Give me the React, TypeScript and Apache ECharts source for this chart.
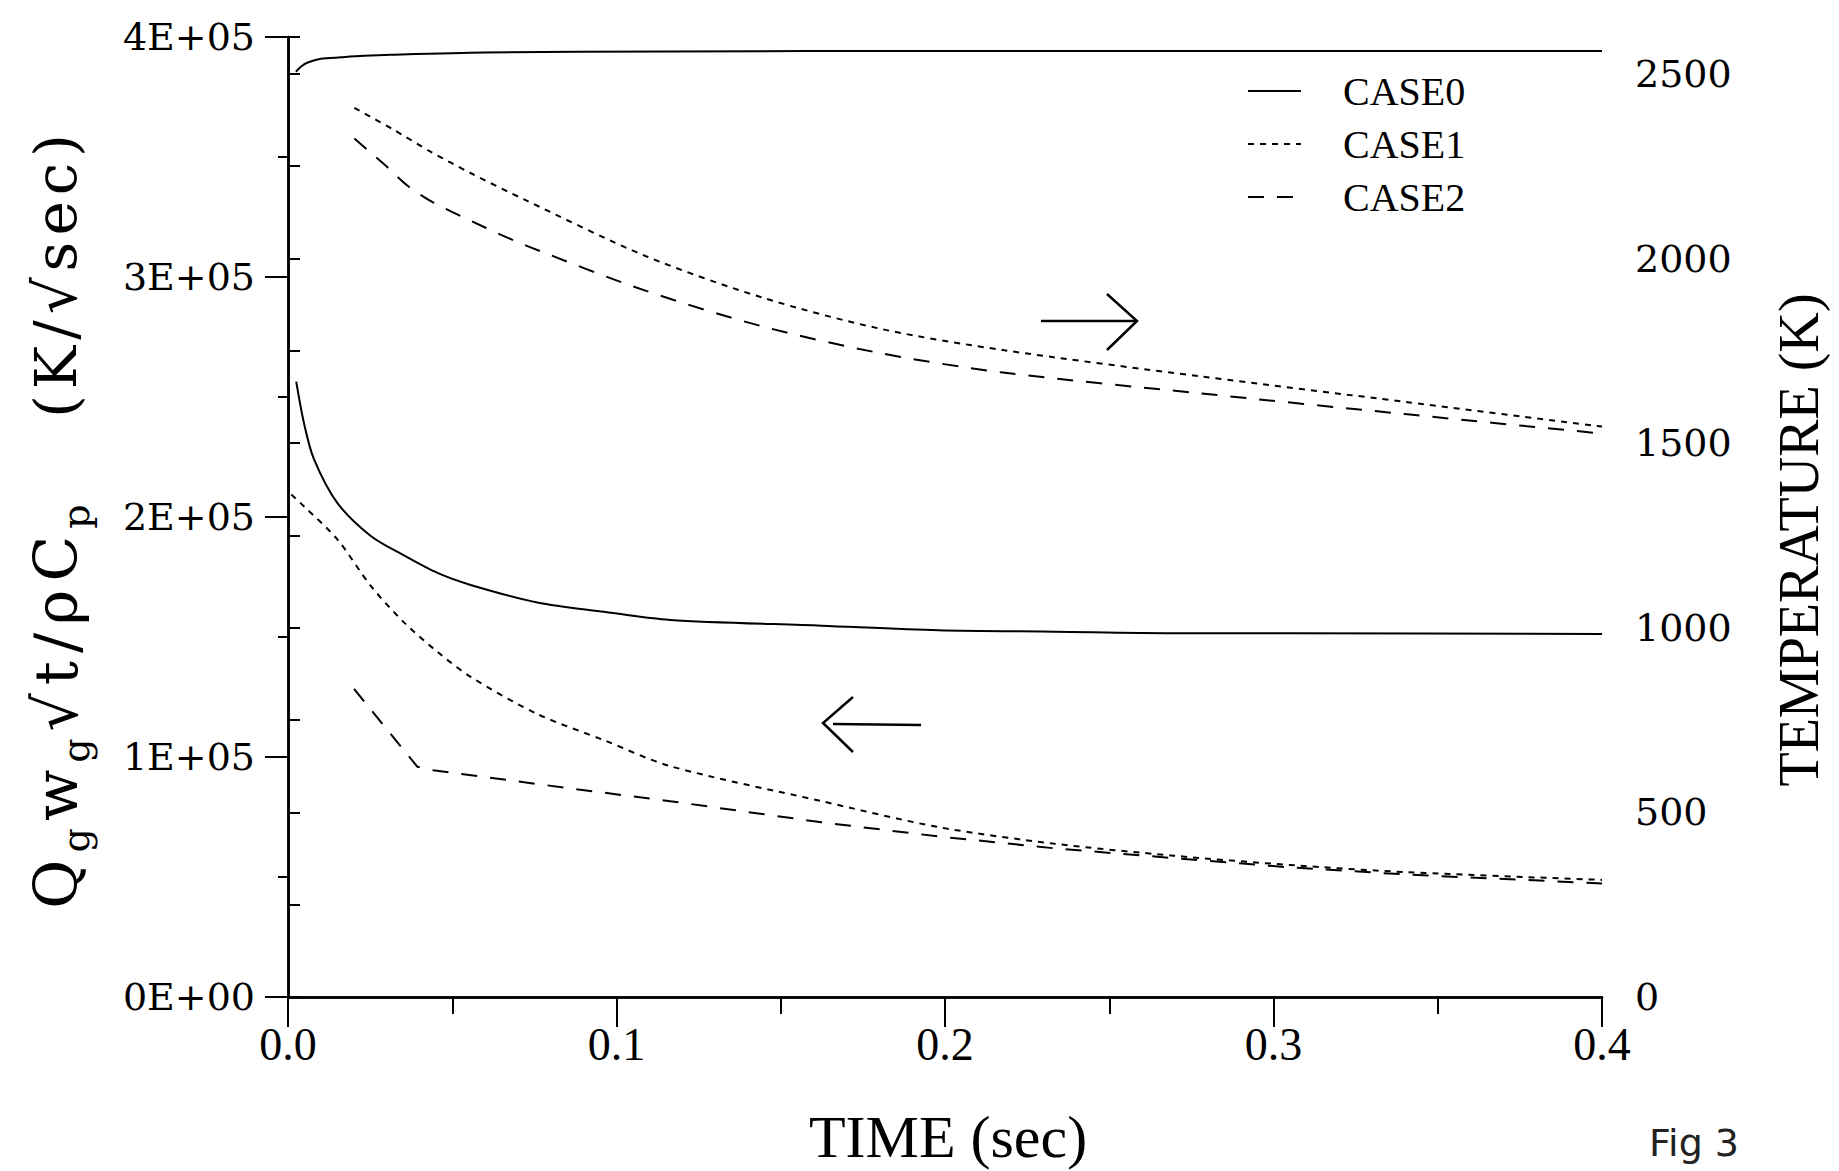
import React, { useEffect, useRef } from "react";
import * as echarts from "echarts";

// ---- Data (time in sec) ----
const timeTickLabels = ["0.0", "0.1", "0.2", "0.3", "0.4"];
const fluxTickLabels = ["0E+00", "1E+05", "2E+05", "3E+05", "4E+05"];
const tempTickLabels = ["0", "500", "1000", "1500", "2000", "2500"];

// Left axis: Qg wg sqrt(t)/rho Cp  (K/sqrt(sec))
const case0FluxTime = [0.0025, 0.0049, 0.0079, 0.015, 0.0252, 0.0353, 0.0455, 0.0556, 0.0759, 0.0962, 0.1163, 0.1624, 0.198, 0.2337, 0.2694, 0.305, 0.4];
const case0Flux = [256400, 238900, 224100, 205900, 192100, 184000, 176700, 171700, 164400, 160500, 157100, 154700, 152800, 152200, 151600, 151600, 151300];

const case1FluxTime = [0.001, 0.0049, 0.015, 0.0252, 0.0353, 0.0455, 0.0556, 0.0759, 0.0962, 0.1163, 0.1624, 0.198, 0.2337, 0.2694, 0.305, 0.3408, 0.4];
const case1Flux = [209400, 204400, 190700, 171300, 156100, 143800, 133400, 117900, 107000, 96200, 81600, 70800, 63800, 58900, 55000, 52000, 48800];

const case2FluxTime = [0.0201, 0.0394, 0.0442, 0.0657, 0.086, 0.1163, 0.1624, 0.198, 0.2337, 0.2694, 0.305, 0.3408, 0.4];
const case2Flux = [128400, 95900, 94500, 90600, 86900, 81600, 72800, 66900, 61900, 57900, 54000, 51000, 47300];

// Right axis: temperature (K)
const case0TempTime = [0.0024, 0.004, 0.006, 0.01, 0.0161, 0.0231, 0.0313, 0.06, 0.1165, 0.2, 0.3, 0.4];
const case0Temp = [2506, 2520, 2531, 2541, 2545, 2549, 2552, 2558, 2561, 2562, 2562, 2562];

const case1TempTime = [0.0202, 0.0323, 0.0435, 0.0557, 0.0719, 0.1088, 0.1445, 0.1802, 0.217, 0.2776, 0.3408, 0.4];
const case1Temp = [2408, 2348, 2289, 2231, 2160, 2007, 1894, 1810, 1753, 1681, 1611, 1545];

const case2TempTime = [0.0202, 0.0298, 0.0364, 0.044, 0.06, 0.0731, 0.1088, 0.1445, 0.1802, 0.217, 0.2776, 0.3408, 0.4];
const case2Temp = [2325, 2251, 2197, 2153, 2084, 2033, 1913, 1816, 1744, 1692, 1635, 1578, 1526];

const caseNames = ["CASE0", "CASE1", "CASE2"];

const pairs = (t: number[], v: number[]) => t.map((x, i) => [x, v[i]]);

const SERIF = "DejaVu Serif";
const TIMES = "Liberation Serif";

const dashFor: Record<string, any> = {
  CASE0: "solid",
  CASE1: [6, 6],
  CASE2: [16, 13],
};

function lineSeries(name: string, t: number[], v: number[], yAxisIndex: number, smooth: number | boolean = 0.3) {
  return {
    name,
    type: "line",
    yAxisIndex,
    data: pairs(t, v),
    symbol: "none",
    showSymbol: false,
    smooth,
    lineStyle: { color: "#000", width: 2, type: dashFor[name] },
    itemStyle: { color: "#000" },
    emphasis: { disabled: true },
  };
}

// rich-text helpers for the left axis title (spaced glyphs, subscripts)
const main = (s: string) => s.split("").map((c) => `{m|${c}}`).join("");
const sub = (s: string) => `{s|${s}}`;

export default function App() {
  const ref = useRef<HTMLDivElement>(null);
  useEffect(() => {
    const chart = echarts.init(ref.current!, null, { renderer: "svg" });
    const axisLine = { show: true, lineStyle: { color: "#000", width: 2.5 } };
    const richLeft = {
      m: { fontFamily: SERIF, fontSize: 60, fill: "#000", padding: [0, 4, 0, 4] },
      s: { fontFamily: SERIF, fontSize: 38, fill: "#000", padding: [40, 3, 0, 3] },
    };
    const option: any = {
      animation: false,
      backgroundColor: "#fff",
      color: ["#000"],
      textStyle: { fontFamily: SERIF, color: "#000" },
      grid: { left: 288, right: 237, top: 37, bottom: 174, containLabel: false },
      legend: {
        data: caseNames,
        orient: "vertical",
        left: 1247,
        top: 71,
        padding: 0,
        itemWidth: 53,
        itemHeight: 14,
        itemGap: 13,
        selectedMode: false,
        itemStyle: { color: "rgba(0,0,0,0)", borderWidth: 0, opacity: 0 },
        textStyle: { fontFamily: TIMES, fontSize: 40, color: "#000", lineHeight: 40, padding: [0, 0, 0, 37] },
      },
      xAxis: [
        {
          type: "value",
          position: "bottom",
          min: 0,
          max: 0.4,
          interval: 0.1,
          axisLine,
          axisTick: { show: true, inside: false, length: 30, lineStyle: { color: "#000", width: 2 } },
          minorTick: { show: true, splitNumber: 2, length: 17, lineStyle: { color: "#000", width: 2 } },
          splitLine: { show: false },
          axisLabel: {
            margin: 24,
            fontFamily: TIMES,
            fontSize: 46,
            color: "#000",
            formatter: (v: number) => timeTickLabels[Math.round(v / 0.1)] ?? "",
          },
        },
        {
          type: "value",
          position: "top",
          min: 0,
          max: 0.4,
          interval: 0.1,
          axisLine,
          axisTick: { show: true, inside: true, length: 25, lineStyle: { color: "#000", width: 2 } },
          minorTick: { show: true, splitNumber: 2, length: 13, lineStyle: { color: "#000", width: 2 } },
          splitLine: { show: false },
          axisLabel: { show: false },
        },
      ],
      yAxis: [
        {
          type: "value",
          position: "left",
          min: 0,
          max: 400000,
          interval: 100000,
          axisLine,
          axisTick: { show: true, inside: false, length: 23, lineStyle: { color: "#000", width: 2 } },
          minorTick: { show: true, splitNumber: 2, length: 10, lineStyle: { color: "#000", width: 2 } },
          splitLine: { show: false },
          axisLabel: {
            margin: 33,
            fontFamily: SERIF,
            fontSize: 38,
            color: "#000",
            formatter: (v: number) => fluxTickLabels[Math.round(v / 100000)] ?? "",
          },
        },
        {
          type: "value",
          position: "right",
          min: 0,
          max: 2600,
          interval: 250,
          axisLine,
          axisTick: { show: true, inside: false, length: 12, lineStyle: { color: "#000", width: 2 } },
          splitLine: { show: false },
          axisLabel: {
            margin: 33,
            fontFamily: SERIF,
            fontSize: 38,
            color: "#000",
            formatter: (v: number) => (v % 500 === 0 ? tempTickLabels[v / 500] ?? "" : ""),
          },
        },
      ],
      series: [
        lineSeries("CASE0", case0FluxTime, case0Flux, 0),
        lineSeries("CASE1", case1FluxTime, case1Flux, 0),
        lineSeries("CASE2", case2FluxTime, case2Flux, 0, false),
        lineSeries("CASE0", case0TempTime, case0Temp, 1),
        lineSeries("CASE1", case1TempTime, case1Temp, 1),
        lineSeries("CASE2", case2TempTime, case2Temp, 1),
      ],
      graphic: [
        // x-axis title
        {
          type: "text",
          x: 948,
          y: 1137,
          style: { text: "TIME (sec)", fontFamily: TIMES, fontSize: 60, fill: "#000", align: "center", verticalAlign: "middle" },
        },
        // right axis title
        {
          type: "text",
          x: 1799,
          y: 540,
          rotation: Math.PI / 2,
          style: { text: "TEMPERATURE (K)", fontFamily: TIMES, fontSize: 56, fill: "#000", align: "center", verticalAlign: "middle" },
        },
        // left axis title (quantity)
        {
          type: "text",
          x: 56,
          y: 707,
          rotation: Math.PI / 2,
          style: {
            text: main("Q") + sub("g") + main("w") + sub("g") + main("√t/ρC") + sub("p"),
            fill: "#000",
            align: "center",
            verticalAlign: "middle",
            rich: richLeft,
          },
        },
        // left axis title (units)
        {
          type: "text",
          x: 56,
          y: 276,
          rotation: Math.PI / 2,
          style: {
            text: main("(K/√sec)"),
            fill: "#000",
            align: "center",
            verticalAlign: "middle",
            rich: { m: { fontFamily: SERIF, fontSize: 58, fill: "#000", padding: [0, 3, 0, 3] } },
          },
        },
        // right-pointing arrow (temperature curves)
        { type: "line", shape: { x1: 1041, y1: 321, x2: 1137, y2: 321 }, style: { stroke: "#000", lineWidth: 2.5 } },
        { type: "polyline", shape: { points: [[1107, 294], [1137, 321], [1107, 350]] }, style: { stroke: "#000", lineWidth: 2.5, fill: null } },
        // left-pointing arrow (flux curves)
        { type: "line", shape: { x1: 833, y1: 724, x2: 921, y2: 725 }, style: { stroke: "#000", lineWidth: 2.5 } },
        { type: "polyline", shape: { points: [[853, 697], [823, 723], [853, 752]] }, style: { stroke: "#000", lineWidth: 2.5, fill: null } },
        // figure label
        {
          type: "text",
          x: 1694,
          y: 1143,
          style: { text: "Fig 3", fontFamily: "DejaVu Sans", fontSize: 38, fill: "#222", align: "center", verticalAlign: "middle" },
        },
      ],
    };
    chart.setOption(option);
    return () => chart.dispose();
  }, []);
  return (
    <div
      ref={ref}
      style={{ position: "fixed", left: 0, top: 0, width: 1839, height: 1171, background: "#fff" }}
    />
  );
}
